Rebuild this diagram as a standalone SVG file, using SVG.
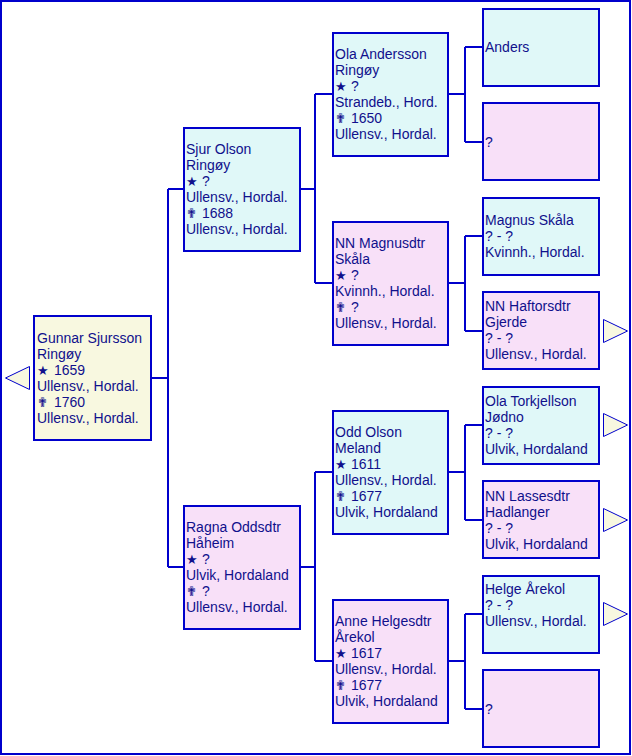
<svg xmlns="http://www.w3.org/2000/svg" width="632" height="756" viewBox="0 0 632 756">
<style>
.frame{fill:#ffffff;stroke:#0000cc;stroke-width:2}
.m{fill:#e0f8f8;stroke:#0000cc;stroke-width:2}
.f{fill:#f8e0f8;stroke:#0000cc;stroke-width:2}
.p{fill:#f8f8e0;stroke:#0000cc;stroke-width:2}
.arr{fill:#f8f8e0;stroke:#0000cc;stroke-width:1}
.c{fill:none;stroke:#0000cc;stroke-width:2}
text{font-family:"Liberation Sans",Arial,sans-serif;font-size:14px;fill:#10108c}
.sy{font-family:"DejaVu Sans",sans-serif;font-size:13px}
.cr{font-family:"DejaVu Sans",sans-serif;font-size:13px}
</style>
<rect class="frame" x="1" y="1" width="629" height="753"/>
<g id="connectors">
<path class="c" d="M151 378H168M168 189V567M168 189H184M168 567H184"/>
<path class="c" d="M300 189H315M315 94V283M315 94H333M315 283H333"/>
<path class="c" d="M300 567H315M315 472V661M315 472H333M315 661H333"/>
<path class="c" d="M448 94H465M465 47V142M465 47H483M465 142H483"/>
<path class="c" d="M448 283H465M465 236V331M465 236H483M465 331H483"/>
<path class="c" d="M448 472H465M465 425V520M465 425H483M465 520H483"/>
<path class="c" d="M448 661H465M465 614V709M465 614H483M465 709H483"/>
</g>
<g id="gunnar">
<polygon class="arr" points="5.5,378 29.5,366.5 29.5,389.5"/>
<rect class="p" x="34" y="316" width="117" height="124"/>
<text x="37" y="343">Gunnar Sjursson</text>
<text x="37" y="359">Ringøy</text>
<text x="37" y="375"><tspan class="sy">★</tspan><tspan x="50"> 1659</tspan></text>
<text x="37" y="391">Ullensv., Hordal.</text>
<text x="37" y="407"><tspan class="cr">✟</tspan><tspan x="50"> 1760</tspan></text>
<text x="37" y="423">Ullensv., Hordal.</text>
</g>
<g id="sjur">
<rect class="m" x="184" y="128" width="116" height="123"/>
<text x="186" y="154">Sjur Olson</text>
<text x="186" y="170">Ringøy</text>
<text x="186" y="186"><tspan class="sy">★</tspan><tspan x="198"> ?</tspan></text>
<text x="186" y="202">Ullensv., Hordal.</text>
<text x="186" y="218"><tspan class="cr">✟</tspan><tspan x="198"> 1688</tspan></text>
<text x="186" y="234">Ullensv., Hordal.</text>
</g>
<g id="ragna">
<rect class="f" x="184" y="506" width="116" height="123"/>
<text x="186" y="532">Ragna Oddsdtr</text>
<text x="186" y="548">Håheim</text>
<text x="186" y="564"><tspan class="sy">★</tspan><tspan x="198"> ?</tspan></text>
<text x="186" y="580">Ulvik, Hordaland</text>
<text x="186" y="596"><tspan class="cr">✟</tspan><tspan x="198"> ?</tspan></text>
<text x="186" y="612">Ullensv., Hordal.</text>
</g>
<g id="ola">
<rect class="m" x="333" y="33" width="115" height="123"/>
<text x="335" y="59">Ola Andersson</text>
<text x="335" y="75">Ringøy</text>
<text x="335" y="91"><tspan class="sy">★</tspan><tspan x="347"> ?</tspan></text>
<text x="335" y="107">Strandeb., Hord.</text>
<text x="335" y="123"><tspan class="cr">✟</tspan><tspan x="347"> 1650</tspan></text>
<text x="335" y="139">Ullensv., Hordal.</text>
</g>
<g id="nn-magnusdtr">
<rect class="f" x="333" y="222" width="115" height="123"/>
<text x="335" y="248">NN Magnusdtr</text>
<text x="335" y="264">Skåla</text>
<text x="335" y="280"><tspan class="sy">★</tspan><tspan x="347"> ?</tspan></text>
<text x="335" y="296">Kvinnh., Hordal.</text>
<text x="335" y="312"><tspan class="cr">✟</tspan><tspan x="347"> ?</tspan></text>
<text x="335" y="328">Ullensv., Hordal.</text>
</g>
<g id="odd">
<rect class="m" x="333" y="411" width="115" height="123"/>
<text x="335" y="437">Odd Olson</text>
<text x="335" y="453">Meland</text>
<text x="335" y="469"><tspan class="sy">★</tspan><tspan x="347"> 1611</tspan></text>
<text x="335" y="485">Ullensv., Hordal.</text>
<text x="335" y="501"><tspan class="cr">✟</tspan><tspan x="347"> 1677</tspan></text>
<text x="335" y="517">Ulvik, Hordaland</text>
</g>
<g id="anne">
<rect class="f" x="333" y="600" width="115" height="123"/>
<text x="335" y="626">Anne Helgesdtr</text>
<text x="335" y="642">Årekol</text>
<text x="335" y="658"><tspan class="sy">★</tspan><tspan x="347"> 1617</tspan></text>
<text x="335" y="674">Ullensv., Hordal.</text>
<text x="335" y="690"><tspan class="cr">✟</tspan><tspan x="347"> 1677</tspan></text>
<text x="335" y="706">Ulvik, Hordaland</text>
</g>
<g id="anders">
<rect class="m" x="483" y="9" width="116" height="77"/>
<text x="485" y="52">Anders</text>
</g>
<g id="unknown-1">
<rect class="f" x="483" y="103" width="116" height="77"/>
<text x="485" y="147">?</text>
</g>
<g id="magnus">
<rect class="m" x="483" y="198" width="116" height="77"/>
<text x="485" y="225">Magnus Skåla</text>
<text x="485" y="241">? - ?</text>
<text x="485" y="257">Kvinnh., Hordal.</text>
</g>
<g id="nn-haftorsdtr">
<rect class="f" x="483" y="292" width="116" height="77"/>
<text x="485" y="311">NN Haftorsdtr</text>
<text x="485" y="327">Gjerde</text>
<text x="485" y="343">? - ?</text>
<text x="485" y="359">Ullensv., Hordal.</text>
<polygon class="arr" points="603.5,319.5 603.5,342.5 627.5,331"/>
</g>
<g id="ola-torkjellson">
<rect class="m" x="483" y="387" width="116" height="77"/>
<text x="485" y="406">Ola Torkjellson</text>
<text x="485" y="422">Jødno</text>
<text x="485" y="438">? - ?</text>
<text x="485" y="454">Ulvik, Hordaland</text>
<polygon class="arr" points="603.5,413.5 603.5,436.5 627.5,425"/>
</g>
<g id="nn-lassesdtr">
<rect class="f" x="483" y="481" width="116" height="77"/>
<text x="485" y="501">NN Lassesdtr</text>
<text x="485" y="517">Hadlanger</text>
<text x="485" y="533">? - ?</text>
<text x="485" y="549">Ulvik, Hordaland</text>
<polygon class="arr" points="603.5,508.5 603.5,531.5 627.5,520"/>
</g>
<g id="helge">
<rect class="m" x="483" y="576" width="116" height="77"/>
<text x="485" y="594">Helge Årekol</text>
<text x="485" y="610">? - ?</text>
<text x="485" y="626">Ullensv., Hordal.</text>
<polygon class="arr" points="603.5,602.5 603.5,625.5 627.5,614"/>
</g>
<g id="unknown-2">
<rect class="f" x="483" y="670" width="116" height="77"/>
<text x="485" y="714">?</text>
</g>
</svg>
